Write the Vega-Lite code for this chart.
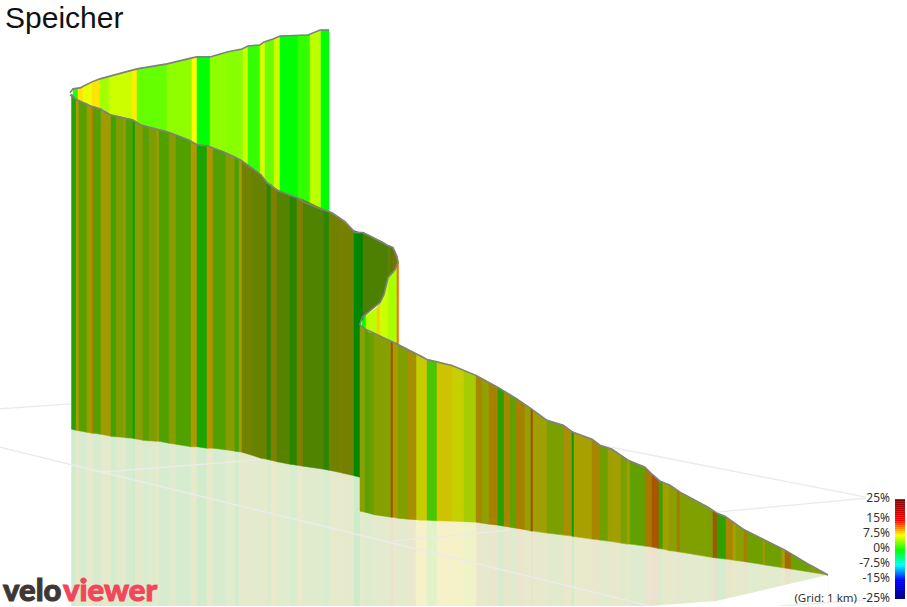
{"$schema":"https://vega.github.io/schema/vega-lite/v6.json","width":907,"height":607,"autosize":{"type":"fit","contains":"padding"},"padding":0,"background":"white","config":{"view":{"stroke":null}},
"datasets":{
"back":[
{"g":1,"x":[73,78],"t":[89,88.5],"b":[230,230]},{"g":8.3,"x":[78,83],"t":[88.5,86],"b":[230,230]},{"g":7,"x":[83,86],"t":[86,85],"b":[230,230]},{"g":6.9,"x":[86,92],"t":[85,82],"b":[230,230]},{"g":8.3,"x":[92,100],"t":[82,79],"b":[230,230]},{"g":4.8,"x":[100,109],"t":[79,76.5],"b":[230,230]},{"g":6,"x":[109,122],"t":[76.5,73],"b":[230,230]},{"g":5.9,"x":[122,132],"t":[73,70.5],"b":[230,230]},{"g":8,"x":[132,137],"t":[70.5,69],"b":[230,230]},{"g":3,"x":[137,167],"t":[69,64],"b":[230,230]},{"g":4.2,"x":[167,192],"t":[64,58],"b":[230,230]},{"g":7.5,"x":[192,197],"t":[58,57],"b":[230,230]},{"g":0,"x":[197,210],"t":[57,57],"b":[230,230]},{"g":4.2,"x":[210,227],"t":[57,52],"b":[230,230]},{"g":4,"x":[227,243],"t":[52,49],"b":[230,230]},{"g":6,"x":[243,248],"t":[49,46],"b":[230,230]},{"g":1.5,"x":[248,260],"t":[46,45],"b":[230,230]},{"g":6.3,"x":[260,265],"t":[45,42],"b":[230,230]},{"g":3.2,"x":[265,274],"t":[42,39],"b":[230,230]},{"g":6,"x":[274,280],"t":[39,36],"b":[230,230]},{"g":0,"x":[280,298],"t":[36,35.5],"b":[230,230]},{"g":1.5,"x":[298,310],"t":[35.5,34.5],"b":[230,230]},{"g":5.5,"x":[310,321],"t":[34.5,30],"b":[230,230]},{"g":0,"x":[321,329],"t":[30,30],"b":[230,230]},
{"g":0,"x":[362,366],"t":[318,316],"b":[350,350]},{"g":5.5,"x":[366,377],"t":[316,308],"b":[350,350]},{"g":9,"x":[377,380],"t":[308,303],"b":[350,350]},{"g":6,"x":[380,384,388],"t":[303,295,278],"b":[350,350,350]},{"g":5,"x":[388,392,395,397],"t":[278,274,270,264],"b":[350,350,350,350]},{"g":12,"x":[397,398.5],"t":[264,262],"b":[350,350]}
],
"inner":[
{"g":0,"x":[360,363],"t":[233,233],"b":[322,320]},{"g":4,"x":[363,368,380,384,388],"t":[233,235,241,243,246],"b":[318,313,303,295,278]},{"g":5,"x":[388,391],"t":[246,247],"b":[278,275]},{"g":4,"x":[391,393],"t":[247,248],"b":[275,273]},{"g":9,"x":[393,395],"t":[248,252],"b":[273,270]},{"g":5,"x":[395,398],"t":[252,262],"b":[270,264]}
],
"front":[
{"w":1,"g":1,"x":[71.5,76],"t":[94,99],"b":[430,431]},{"w":1,"g":7,"x":[76,79],"t":[99,101],"b":[431,431.5]},{"w":1,"g":2.6,"x":[79,87],"t":[101,104],"b":[431.5,433]},{"w":1,"g":6.4,"x":[87,92],"t":[104,107],"b":[433,434]},{"w":1,"g":9,"x":[92,94],"t":[107,107],"b":[434,434]},{"w":1,"g":2.3,"x":[94,101],"t":[107,110],"b":[434,435]},{"w":1,"g":6.6,"x":[101,111],"t":[110,115],"b":[435,437]},{"w":1,"g":1.7,"x":[111,116],"t":[115,116],"b":[437,437.5]},{"w":1,"g":4.7,"x":[116,123],"t":[116,118],"b":[437.5,438]},{"w":1,"g":5.8,"x":[123,126],"t":[118,118.5],"b":[438,438.5]},{"w":1,"g":2.1,"x":[126,133],"t":[118.5,120],"b":[438.5,439]},{"w":1,"g":0,"x":[133,135],"t":[120,121],"b":[439,439.5]},{"w":1,"g":5.3,"x":[135,143],"t":[121,126],"b":[439.5,441]},{"w":1,"g":2.5,"x":[143,149],"t":[126,128],"b":[441,441.5]},{"w":1,"g":4.7,"x":[149,157],"t":[128,130],"b":[441.5,442]},{"w":1,"g":7,"x":[157,159],"t":[130,130.5],"b":[442,442]},{"w":1,"g":2.1,"x":[159,169],"t":[130.5,133],"b":[442,444]},{"w":1,"g":5.3,"x":[169,176],"t":[133,135],"b":[444,445]},{"w":1,"g":2.1,"x":[176,191],"t":[135,141],"b":[445,447.5]},{"w":1,"g":7.3,"x":[191,197],"t":[141,145],"b":[447.5,447.5]},{"w":1,"g":0.7,"x":[197,207],"t":[145,146],"b":[447.5,449]},{"w":1,"g":7.8,"x":[207,213],"t":[146,148],"b":[449,449]},{"w":1,"g":2.2,"x":[213,226],"t":[148,153],"b":[449,450.5]},{"w":1,"g":5.1,"x":[226,235],"t":[153,157],"b":[450.5,452]},{"w":1,"g":1.7,"x":[235,239],"t":[157,160],"b":[452,452.5]},{"w":1,"g":6.8,"x":[239,242],"t":[160,161],"b":[452.5,453]},
{"w":2,"g":6.6,"x":[242,252],"t":[161,168],"b":[453,456]},{"w":2,"g":6,"x":[252,261],"t":[168,175],"b":[456,459]},{"w":2,"g":6.2,"x":[261,267],"t":[175,183],"b":[459,460]},{"w":2,"g":2.5,"x":[267,271],"t":[183,185],"b":[460,461]},{"w":2,"g":7.5,"x":[271,277],"t":[185,190],"b":[461,462.5]},{"w":2,"g":5,"x":[277,290],"t":[190,196],"b":[462.5,465]},{"w":2,"g":2.5,"x":[290,297],"t":[196,198],"b":[465,466]},{"w":2,"g":7.5,"x":[297,303],"t":[198,200],"b":[466,467]},{"w":2,"g":4.7,"x":[303,324],"t":[200,210],"b":[467,470]},{"w":2,"g":2.5,"x":[324,329],"t":[210,212],"b":[470,471]},{"w":2,"g":6.6,"x":[329,339],"t":[212,218],"b":[471,473]},{"w":2,"g":7.2,"x":[339,343],"t":[218,221],"b":[473,474]},{"w":2,"g":6.8,"x":[343,354],"t":[221,231],"b":[474,476.5]},{"w":2,"g":0,"x":[354,360],"t":[231,233],"b":[476.5,478]},
{"w":4,"g":6.2,"x":[360,365],"t":[326,329],"b":[512,513]},{"w":4,"g":4,"x":[365,369],"t":[329,333],"b":[513,514]},{"w":4,"g":4.7,"x":[369,374],"t":[333,334],"b":[514,515.5]},{"w":4,"g":6,"x":[374,391],"t":[334,342],"b":[515.5,518]},{"w":4,"g":12.5,"x":[391,393],"t":[342,343],"b":[518,518]},{"w":4,"g":7.8,"x":[393,398],"t":[343,345],"b":[518,519]},{"w":4,"g":5.7,"x":[398,408],"t":[345,350],"b":[519,520]},{"w":4,"g":8.5,"x":[408,416],"t":[350,354],"b":[520,520.5]},
{"w":3,"g":6.9,"x":[416,421],"t":[354,356],"b":[520.5,521]},{"w":3,"g":7.8,"x":[421,427],"t":[356,360],"b":[521,521]},{"w":3,"g":2.6,"x":[427,437],"t":[360,362],"b":[521,521.5]},{"w":3,"g":8,"x":[437,452],"t":[362,366],"b":[521.5,522]},{"w":3,"g":7.2,"x":[452,464],"t":[366,371],"b":[522,522.5]},{"w":3,"g":6,"x":[464,476],"t":[371,376],"b":[522.5,523]},
{"w":4,"g":9,"x":[476,482],"t":[376,379],"b":[523,524]},{"w":4,"g":6.4,"x":[482,489],"t":[379,383],"b":[524,525]},{"w":4,"g":9.4,"x":[489,498],"t":[383,388],"b":[525,526]},
{"w":4,"g":1.8,"x":[498,504],"t":[388,392],"b":[526,527]},{"w":4,"g":9,"x":[504,510],"t":[392,396],"b":[527,528]},{"w":4,"g":4.3,"x":[510,516],"t":[396,399],"b":[528,529]},{"w":4,"g":9.4,"x":[516,525],"t":[399,405],"b":[529,530.5]},{"w":4,"g":6.5,"x":[525,531],"t":[405,409],"b":[530.5,532]},{"w":4,"g":12.5,"x":[531,533],"t":[409,411],"b":[532,532]},{"w":4,"g":7,"x":[533,547],"t":[411,421],"b":[532,534]},{"w":4,"g":5.4,"x":[547,564],"t":[421,426],"b":[534,536]},{"w":4,"g":8.5,"x":[564,572],"t":[426,432],"b":[536,537]},{"w":4,"g":0,"x":[572,574],"t":[432,433],"b":[537,537.5]},{"w":4,"g":7.5,"x":[574,592],"t":[433,440],"b":[537.5,540]},{"w":4,"g":9,"x":[592,600],"t":[440,446],"b":[540,541]},{"w":4,"g":5,"x":[600,608],"t":[446,448.5],"b":[541,542]},{"w":4,"g":7,"x":[608,612],"t":[448.5,450],"b":[542,542.5]},{"w":4,"g":7.2,"x":[612,621],"t":[450,456],"b":[542.5,544]},{"w":4,"g":5.4,"x":[621,627],"t":[456,460],"b":[544,545]},{"w":4,"g":7,"x":[627,630],"t":[460,462],"b":[545,545]},{"w":4,"g":4.3,"x":[630,645],"t":[462,468],"b":[545,547]},{"w":4,"g":9.8,"x":[645,652],"t":[468,475],"b":[547,548]},{"w":4,"g":11.8,"x":[652,659],"t":[475,481],"b":[548,549.5]},{"w":4,"g":2.9,"x":[659,663],"t":[481,483],"b":[549.5,550]},{"w":4,"g":7.2,"x":[663,669],"t":[483,486],"b":[550,551.5]},{"w":4,"g":6.2,"x":[669,677],"t":[486,491],"b":[551.5,552.5]},{"w":4,"g":9.8,"x":[677,680],"t":[491,493],"b":[552.5,553]},{"w":4,"g":5.7,"x":[680,707],"t":[493,507.5],"b":[553,557.5]},{"w":4,"g":5.5,"x":[707,713],"t":[507.5,512],"b":[557.5,558.5]},{"w":4,"g":12,"x":[713,717],"t":[512,514],"b":[558.5,559]},{"w":4,"g":2.1,"x":[717,726],"t":[514,518],"b":[559,560]},{"w":4,"g":9,"x":[726,733],"t":[518,523],"b":[560,561]},{"w":4,"g":7.5,"x":[733,736],"t":[523,525],"b":[561,561.5]},{"w":4,"g":6.2,"x":[736,744],"t":[525,530],"b":[561.5,562.5]},{"w":4,"g":9.5,"x":[744,747],"t":[530,532],"b":[562.5,563]},{"w":4,"g":5,"x":[747,763],"t":[532,540],"b":[563,565.5]},{"w":4,"g":8,"x":[763,765],"t":[540,541],"b":[565.5,566]},{"w":4,"g":5,"x":[765,782],"t":[541,549.5],"b":[566,568.5]},{"w":4,"g":7.5,"x":[782,785],"t":[549.5,551],"b":[568.5,569]},{"w":4,"g":10.8,"x":[785,791],"t":[551,554.5],"b":[569,570]},{"w":4,"g":5,"x":[791,810],"t":[554.5,566],"b":[570,573]},{"w":4,"g":5.7,"x":[810,828],"t":[566,576],"b":[573,576]}
],
"outline":[
{"p":1,"k":[1,2,3,4,5,6,7,8,9,10,11,12,13,14,15,16,17,18,19,20,21],"x":[70,73,80,92,100,122,137,167,192,197,210,227,242,248,260,264,273,280,308,320,329],"y":[93,89,88,82,79,73,69,64,58,57,57,52,49,46,45,42,39,36,35,30,30]},
{"p":2,"k":[1,2,3,4,5,6,7,8,9,10,11,12,13,14,15,16,17,18,19,20,21,22,23,24,25,26,27,28,29,30,31,32,33,34,35,36,37,38,39,40,41,42,43,44,45,46,47,48,49,50,51,52,53,54,55,56,57,58,59,60,61,62,63,64],"x":[70,77,90,100,110,132,140,167,188,197,207,223,240,250,261,267,278,297,305,323,332,345,355,363,388,393,397,398,395,388,384,380,368,362,360,364,383,398,427,452,476,498,516,532,547,563,573,592,600,612,628,645,652,660,670,680,708,717,725,743,763,785,810,828],"y":[95,100,106,109,115,120,125,132,140,145,146,152,160,167,175,183,191,198,203,210,213,222,233,233,246,248,257,263,270,278,295,303,313,318,325,329,338,345,360,366,376,388,399,410,421,426,433,440,446,450,461,468,475,482,486,493,508,514,517,530,540,551,566,576]}
],
"grid":[
{"l":1,"x":[0,72],"y":[409.5,404.5]},{"l":2,"x":[0,650],"y":[448,607]},{"l":3,"x":[100,267],"y":[473,460]},{"l":4,"x":[392,510],"y":[542,531]},{"l":5,"x":[606,866],"y":[447,498]},{"l":6,"x":[716,866],"y":[513,499]},{"l":7,"x":[780,865],"y":[607,601]}
],
"cover":[{"x":[650,716,828],"y":[607,602,576]}],
"colorbar":[
{"x":895,"e":905,"a":25,"c":24},{"x":895,"e":905,"a":24,"c":23},{"x":895,"e":905,"a":23,"c":22},{"x":895,"e":905,"a":22,"c":21},{"x":895,"e":905,"a":21,"c":20},{"x":895,"e":905,"a":20,"c":19},{"x":895,"e":905,"a":19,"c":18},{"x":895,"e":905,"a":18,"c":17},{"x":895,"e":905,"a":17,"c":16},{"x":895,"e":905,"a":16,"c":15},{"x":895,"e":905,"a":15,"c":14},{"x":895,"e":905,"a":14,"c":13},{"x":895,"e":905,"a":13,"c":12},{"x":895,"e":905,"a":12,"c":11},{"x":895,"e":905,"a":11,"c":10},{"x":895,"e":905,"a":10,"c":9},{"x":895,"e":905,"a":9,"c":8},{"x":895,"e":905,"a":8,"c":7},{"x":895,"e":905,"a":7,"c":6},{"x":895,"e":905,"a":6,"c":5},{"x":895,"e":905,"a":5,"c":4},{"x":895,"e":905,"a":4,"c":3},{"x":895,"e":905,"a":3,"c":2},{"x":895,"e":905,"a":2,"c":1},{"x":895,"e":905,"a":1,"c":0},{"x":895,"e":905,"a":0,"c":-1},{"x":895,"e":905,"a":-1,"c":-2},{"x":895,"e":905,"a":-2,"c":-3},{"x":895,"e":905,"a":-3,"c":-4},{"x":895,"e":905,"a":-4,"c":-5},{"x":895,"e":905,"a":-5,"c":-6},{"x":895,"e":905,"a":-6,"c":-7},{"x":895,"e":905,"a":-7,"c":-8},{"x":895,"e":905,"a":-8,"c":-9},{"x":895,"e":905,"a":-9,"c":-10},{"x":895,"e":905,"a":-10,"c":-11},{"x":895,"e":905,"a":-11,"c":-12},{"x":895,"e":905,"a":-12,"c":-13},{"x":895,"e":905,"a":-13,"c":-14},{"x":895,"e":905,"a":-14,"c":-15},{"x":895,"e":905,"a":-15,"c":-16},{"x":895,"e":905,"a":-16,"c":-17},{"x":895,"e":905,"a":-17,"c":-18},{"x":895,"e":905,"a":-18,"c":-19},{"x":895,"e":905,"a":-19,"c":-20},{"x":895,"e":905,"a":-20,"c":-21},{"x":895,"e":905,"a":-21,"c":-22},{"x":895,"e":905,"a":-22,"c":-23},{"x":895,"e":905,"a":-23,"c":-24},{"x":895,"e":905,"a":-24,"c":-25}
],
"scalelabels":[{"x":890,"a":25,"text":"25%"},{"x":890,"a":15,"text":"15%"},{"x":890,"a":7.5,"text":"7.5%"},{"x":890,"a":0,"text":"0%"},{"x":890,"a":-7.5,"text":"-7.5%"},{"x":890,"a":-15,"text":"-15%"},{"x":890,"a":-25,"text":"-25%"}]
},
"encoding":{"x":{"field":"x","type":"quantitative","scale":{"domain":[0,907],"nice":false,"zero":false},"axis":null}},
"layer":[
{"data":{"name":"front"},"transform":[{"window":[{"op":"row_number","as":"s"}]},{"flatten":["x","t","b"]},{"filter":"datum.w!=3"}],"mark":{"type":"area","strokeWidth":0.5,"clip":true},
 "encoding":{"y":{"field":"b","type":"quantitative","scale":{"domain":[607,0],"nice":false,"zero":false},"axis":null},"y2":{"datum":607},"detail":{"field":"s"},
 "fill":{"field":"g","type":"quantitative","legend":null,"scale":{"domain":[0,3,7.5,15],"range":["#cdeccb","#daecd0","#e9e9cb","#eedcd2"],"interpolate":"rgb","clamp":true}},
 "stroke":{"field":"g","type":"quantitative","legend":null,"scale":{"domain":[0,3,7.5,15],"range":["#cdeccb","#daecd0","#e9e9cb","#eedcd2"],"interpolate":"rgb","clamp":true}}}},
{"data":{"name":"front"},"transform":[{"window":[{"op":"row_number","as":"s"}]},{"flatten":["x","t","b"]},{"filter":"datum.w==3"}],"mark":{"type":"area","strokeWidth":0.5,"clip":true},
 "encoding":{"y":{"field":"b","type":"quantitative","scale":{"domain":[607,0],"nice":false,"zero":false},"axis":null},"y2":{"datum":607},"detail":{"field":"s"},
 "fill":{"field":"g","type":"quantitative","legend":null,"scale":{"domain":[0,7.5,15],"range":["#d6f0c8","#f6f2c8","#f0dcd2"],"interpolate":"rgb","clamp":true}},
 "stroke":{"field":"g","type":"quantitative","legend":null,"scale":{"domain":[0,7.5,15],"range":["#d6f0c8","#f6f2c8","#f0dcd2"],"interpolate":"rgb","clamp":true}}}},
{"data":{"name":"cover"},"transform":[{"flatten":["x","y"]}],"mark":{"type":"area","color":"white","clip":true},
 "encoding":{"y":{"field":"y","type":"quantitative","scale":{"domain":[607,0],"nice":false,"zero":false},"axis":null},"y2":{"datum":607}}},
{"data":{"name":"grid"},"transform":[{"flatten":["x","y"]}],"mark":{"type":"line","color":"#ebebeb","strokeWidth":1.4,"clip":true},
 "encoding":{"y":{"field":"y","type":"quantitative","scale":{"domain":[607,0],"nice":false,"zero":false},"axis":null},"detail":{"field":"l"}}},
{"data":{"name":"back"},"transform":[{"window":[{"op":"row_number","as":"s"}]},{"flatten":["x","t","b"]}],"mark":{"type":"area","strokeWidth":0.5,"clip":true},
 "encoding":{"y":{"field":"t","type":"quantitative","scale":{"domain":[607,0],"nice":false,"zero":false},"axis":null},"y2":{"field":"b"},"detail":{"field":"s"},
 "fill":{"field":"g","type":"quantitative","legend":null,"scale":{"domain":[-25,-15,-7.5,0,7.5,15,25],"range":["#00007f","#0000ff","#00ffff","#00ff00","#ffff00","#ff0000","#7f0000"],"interpolate":"rgb"}},
 "stroke":{"field":"g","type":"quantitative","legend":null,"scale":{"domain":[-25,-15,-7.5,0,7.5,15,25],"range":["#00007f","#0000ff","#00ffff","#00ff00","#ffff00","#ff0000","#7f0000"],"interpolate":"rgb"}}}},
{"data":{"name":"inner"},"transform":[{"window":[{"op":"row_number","as":"s"}]},{"flatten":["x","t","b"]}],"mark":{"type":"area","strokeWidth":0.5,"clip":true},
 "encoding":{"y":{"field":"t","type":"quantitative","scale":{"domain":[607,0],"nice":false,"zero":false},"axis":null},"y2":{"field":"b"},"detail":{"field":"s"},
 "fill":{"field":"g","type":"quantitative","legend":null,"scale":{"domain":[0,7.5,15],"range":["#008000","#908000","#a00000"],"interpolate":"rgb"}},
 "stroke":{"field":"g","type":"quantitative","legend":null,"scale":{"domain":[0,7.5,15],"range":["#008000","#908000","#a00000"],"interpolate":"rgb"}}}},
{"data":{"name":"front"},"transform":[{"window":[{"op":"row_number","as":"s"}]},{"flatten":["x","t","b"]},{"filter":"datum.w==1"}],"mark":{"type":"area","strokeWidth":0.5,"clip":true},
 "encoding":{"y":{"field":"t","type":"quantitative","scale":{"domain":[607,0],"nice":false,"zero":false},"axis":null},"y2":{"field":"b"},"detail":{"field":"s"},
 "fill":{"field":"g","type":"quantitative","legend":null,"scale":{"domain":[0,2.1,7.5,15],"range":["#00a400","#50a000","#b09a00","#c00000"],"interpolate":"rgb"}},
 "stroke":{"field":"g","type":"quantitative","legend":null,"scale":{"domain":[0,2.1,7.5,15],"range":["#00a400","#50a000","#b09a00","#c00000"],"interpolate":"rgb"}}}},
{"data":{"name":"front"},"transform":[{"window":[{"op":"row_number","as":"s"}]},{"flatten":["x","t","b"]},{"filter":"datum.w==2"}],"mark":{"type":"area","strokeWidth":0.5,"clip":true},
 "encoding":{"y":{"field":"t","type":"quantitative","scale":{"domain":[607,0],"nice":false,"zero":false},"axis":null},"y2":{"field":"b"},"detail":{"field":"s"},
 "fill":{"field":"g","type":"quantitative","legend":null,"scale":{"domain":[0,7.5,15],"range":["#008800","#808000","#900000"],"interpolate":"rgb"}},
 "stroke":{"field":"g","type":"quantitative","legend":null,"scale":{"domain":[0,7.5,15],"range":["#008800","#808000","#900000"],"interpolate":"rgb"}}}},
{"data":{"name":"front"},"transform":[{"window":[{"op":"row_number","as":"s"}]},{"flatten":["x","t","b"]},{"filter":"datum.w==3"}],"mark":{"type":"area","strokeWidth":0.5,"clip":true},
 "encoding":{"y":{"field":"t","type":"quantitative","scale":{"domain":[607,0],"nice":false,"zero":false},"axis":null},"y2":{"field":"b"},"detail":{"field":"s"},
 "fill":{"field":"g","type":"quantitative","legend":null,"scale":{"domain":[0,7.5,15],"range":["#00c000","#d0d000","#c00000"],"interpolate":"rgb"}},
 "stroke":{"field":"g","type":"quantitative","legend":null,"scale":{"domain":[0,7.5,15],"range":["#00c000","#d0d000","#c00000"],"interpolate":"rgb"}}}},
{"data":{"name":"front"},"transform":[{"window":[{"op":"row_number","as":"s"}]},{"flatten":["x","t","b"]},{"filter":"datum.w==4"}],"mark":{"type":"area","strokeWidth":0.5,"clip":true},
 "encoding":{"y":{"field":"t","type":"quantitative","scale":{"domain":[607,0],"nice":false,"zero":false},"axis":null},"y2":{"field":"b"},"detail":{"field":"s"},
 "fill":{"field":"g","type":"quantitative","legend":null,"scale":{"domain":[0,7.5,15],"range":["#00a000","#a8a000","#a82000"],"interpolate":"rgb"}},
 "stroke":{"field":"g","type":"quantitative","legend":null,"scale":{"domain":[0,7.5,15],"range":["#00a000","#a8a000","#a82000"],"interpolate":"rgb"}}}},
{"data":{"name":"outline"},"transform":[{"flatten":["k","x","y"]}],"mark":{"type":"line","color":"#808080","strokeWidth":1.6,"clip":true},
 "encoding":{"y":{"field":"y","type":"quantitative","scale":{"domain":[607,0],"nice":false,"zero":false},"axis":null},"detail":{"field":"p"},"order":{"field":"k","type":"quantitative"}}},
{"data":{"name":"colorbar"},"mark":{"type":"rect"},
 "encoding":{"x2":{"field":"e"},
 "y":{"field":"a","type":"quantitative","scale":{"domain":[-28.5,275],"nice":false,"zero":false},"axis":null},"y2":{"field":"c"},
 "fill":{"field":"a","type":"quantitative","legend":null,"scale":{"domain":[-25,-15,-7.5,0,7.5,15,25],"range":["#00007f","#0000ff","#00ffff","#00ff00","#ffff00","#ff0000","#7f0000"],"interpolate":"rgb"}}}},
{"data":{"name":"scalelabels"},"mark":{"type":"text","align":"right","baseline":"middle","dy":-1,"font":"Noto Sans","fontSize":12,"color":"#333333"},
 "encoding":{"y":{"field":"a","type":"quantitative","scale":{"domain":[-28.5,275],"nice":false,"zero":false},"axis":null},"text":{"field":"text"}}},
{"data":{"values":[{"x":5,"y":28,"text":"Speicher"}]},"mark":{"type":"text","align":"left","baseline":"alphabetic","font":"Liberation Sans","fontSize":30,"color":"#111111"},
 "encoding":{"y":{"field":"y","type":"quantitative","scale":{"domain":[607,0],"nice":false,"zero":false},"axis":null},"text":{"field":"text"}}},
{"data":{"values":[{"x":857,"y":603,"text":"(Grid: 1 km)"}]},"mark":{"type":"text","align":"right","baseline":"alphabetic","font":"Noto Sans","fontSize":11.5,"color":"#333333"},
 "encoding":{"y":{"field":"y","type":"quantitative","scale":{"domain":[607,0],"nice":false,"zero":false},"axis":null},"text":{"field":"text"}}},
{"data":{"values":[{"x":3,"y":602,"text":"velo"}]},"mark":{"type":"text","align":"left","baseline":"alphabetic","font":"Lato","fontWeight":900,"fontSize":31,"color":"#3d3735","stroke":"#3d3735","strokeWidth":1},
 "encoding":{"y":{"field":"y","type":"quantitative","scale":{"domain":[607,0],"nice":false,"zero":false},"axis":null},"text":{"field":"text"}}},
{"data":{"values":[{"x":63,"y":602,"text":"viewer"}]},"mark":{"type":"text","align":"left","baseline":"alphabetic","font":"Lato","fontWeight":900,"fontSize":31,"color":"#f2475a","stroke":"#f2475a","strokeWidth":1},
 "encoding":{"y":{"field":"y","type":"quantitative","scale":{"domain":[607,0],"nice":false,"zero":false},"axis":null},"text":{"field":"text"}}}
],
"resolve":{"scale":{"y":"independent","fill":"independent","stroke":"independent"}}}
